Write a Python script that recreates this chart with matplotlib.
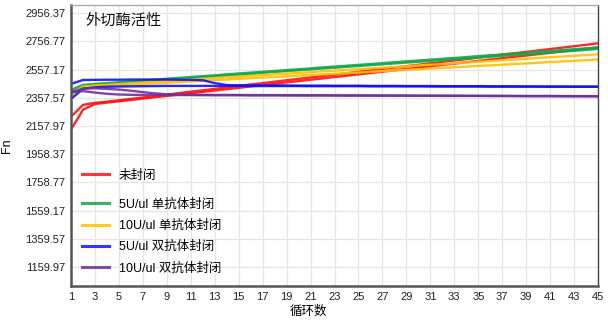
import matplotlib
matplotlib.use("Agg")
import matplotlib.pyplot as plt
import numpy as np

plt.rcParams['font.family'] = ['Liberation Sans', 'Noto Sans CJK SC', 'DejaVu Sans']

cycles = list(range(1, 46))

red_1 = [2224, 2308, 2322, 2330, 2340, 2350, 2360, 2370, 2380, 2391, 2401, 2411, 2421, 2432, 2442,
         2452, 2462, 2472, 2482, 2492, 2502, 2512, 2522, 2532, 2542, 2552, 2562, 2572, 2582, 2592,
         2602, 2612, 2622, 2632, 2643, 2653, 2663, 2673, 2683, 2693, 2703, 2713, 2723, 2733, 2744]
red_2 = [2133, 2273, 2314, 2324, 2333, 2343, 2352, 2362, 2371, 2381, 2390, 2400, 2409, 2419, 2428,
         2438, 2448, 2457, 2467, 2476, 2486, 2495, 2505, 2514, 2524, 2533, 2543, 2552, 2562, 2572,
         2581, 2591, 2600, 2610, 2619, 2629, 2638, 2648, 2657, 2667, 2676, 2686, 2695, 2705, 2715]
green_1 = [2414, 2449, 2456, 2462, 2468, 2474, 2480, 2487, 2493, 2499, 2505, 2511, 2517, 2524, 2530,
           2536, 2542, 2548, 2554, 2560, 2566, 2573, 2579, 2585, 2591, 2597, 2603, 2610, 2616, 2622,
           2628, 2634, 2640, 2646, 2653, 2659, 2665, 2671, 2677, 2683, 2690, 2696, 2702, 2708, 2714]
green_2 = [2395, 2440, 2450, 2456, 2462, 2468, 2474, 2480, 2486, 2492, 2498, 2504, 2510, 2516, 2522,
           2528, 2534, 2541, 2547, 2553, 2559, 2565, 2571, 2577, 2583, 2589, 2595, 2601, 2607, 2613,
           2619, 2625, 2631, 2637, 2643, 2649, 2655, 2661, 2667, 2673, 2679, 2685, 2691, 2697, 2705]
yellow_1 = [2385, 2438, 2445, 2450, 2455, 2461, 2466, 2471, 2476, 2482, 2487, 2492, 2497, 2503, 2508,
            2513, 2518, 2524, 2529, 2534, 2540, 2545, 2550, 2555, 2561, 2566, 2571, 2576, 2582, 2587,
            2592, 2597, 2603, 2608, 2613, 2618, 2624, 2629, 2634, 2640, 2645, 2650, 2655, 2661, 2666]
yellow_2 = [2375, 2430, 2437, 2441, 2446, 2451, 2455, 2460, 2464, 2469, 2473, 2478, 2483, 2487, 2492,
            2496, 2501, 2505, 2510, 2515, 2519, 2524, 2528, 2533, 2537, 2542, 2547, 2551, 2556, 2560,
            2565, 2569, 2574, 2579, 2583, 2588, 2592, 2597, 2601, 2606, 2611, 2615, 2620, 2624, 2629]
blue_1 = [2456, 2484, 2485, 2486, 2486, 2487, 2487, 2487, 2487, 2486, 2485, 2482, 2462, 2448, 2446,
          2446, 2445, 2445, 2445, 2444, 2444, 2444, 2443, 2443, 2443, 2442, 2442, 2442, 2441, 2441,
          2441, 2440, 2440, 2440, 2440, 2439, 2439, 2439, 2438, 2438, 2438, 2438, 2437, 2437, 2437]
blue_2 = [2350, 2421, 2432, 2436, 2438, 2439, 2440, 2441, 2442, 2442, 2442, 2442, 2442, 2442, 2442,
          2441, 2441, 2441, 2441, 2441, 2440, 2440, 2440, 2440, 2440, 2439, 2439, 2439, 2439, 2439,
          2438, 2438, 2438, 2438, 2438, 2437, 2437, 2437, 2437, 2437, 2436, 2436, 2436, 2436, 2436]
purple_1 = [2400, 2405, 2395, 2386, 2381, 2379, 2378, 2378, 2377, 2377, 2377, 2376, 2376, 2376, 2376,
            2375, 2375, 2375, 2375, 2374, 2374, 2374, 2374, 2373, 2373, 2373, 2373, 2372, 2372, 2372,
            2372, 2371, 2371, 2371, 2371, 2370, 2370, 2370, 2369, 2369, 2369, 2369, 2368, 2368, 2368]
purple_2 = [2392, 2424, 2425, 2421, 2416, 2408, 2398, 2389, 2383, 2380, 2379, 2379, 2378, 2378, 2378,
            2377, 2377, 2377, 2376, 2376, 2376, 2376, 2375, 2375, 2375, 2374, 2374, 2374, 2374, 2373,
            2373, 2373, 2373, 2372, 2372, 2372, 2372, 2371, 2371, 2371, 2371, 2370, 2370, 2370, 2369]

labels = ['未封闭', '5U/ul 单抗体封闭', '10U/ul 单抗体封闭', '5U/ul 双抗体封闭', '10U/ul 双抗体封闭']
colors = ['#ff1010', '#10a848', '#ffc000', '#1010ff', '#7030a0']
groups = [(red_1, red_2), (green_1, green_2), (yellow_1, yellow_2), (blue_1, blue_2), (purple_1, purple_2)]

y_ticks = [1159.97, 1359.57, 1559.17, 1758.77, 1958.37, 2157.97, 2357.57, 2557.17, 2756.77, 2956.37]
x_ticks = list(range(1, 46, 2))

fig = plt.figure(figsize=(6.08, 3.23), dpi=100)
ax = fig.add_axes([0.1168, 0.1146, 0.8668, 0.8699])

handles = []
for (a, b), col, lab in zip(groups, colors, labels):
    ax.plot(cycles, b, color=col, lw=1.7, alpha=0.9)
    h, = ax.plot(cycles, a, color=col, lw=1.7, alpha=0.9, label=lab)
    handles.append(h)

ax.set_xlim(1, 45)
ax.set_ylim(1025, 3015)
ax.set_xticks(x_ticks)
ax.set_yticks(y_ticks)
ax.set_yticklabels(['%.2f' % v for v in y_ticks])
ax.tick_params(length=0, labelsize=8, colors='#222222', pad=4)
ax.grid(True, color='#e6e6e6', lw=0.9)
ax.set_axisbelow(True)

for side in ['left', 'bottom']:
    ax.spines[side].set_color('#555555')
    ax.spines[side].set_linewidth(1.8)
ax.spines['right'].set_color('#444444')
ax.spines['right'].set_linewidth(1.0)
ax.spines['top'].set_color('#aaaaaa')
ax.spines['top'].set_linewidth(1.0)

ax.text(0.028, 0.945, '外切酶活性', transform=ax.transAxes, fontsize=11,
        ha='left', va='center', color='#111111')

ax.set_xlabel('循环数', fontsize=9, labelpad=1)
ax.xaxis.set_label_coords(0.45, -0.07)
ax.set_ylabel('Fn', fontsize=9)
ax.yaxis.set_label_coords(-0.11, 0.5)

# legend: first entry sits apart from the other four
leg_kw = dict(loc='upper left', frameon=False, fontsize=9, handlelength=2.1,
              handletextpad=0.8, borderaxespad=0.5)
leg1 = ax.legend(handles=handles[:1], bbox_to_anchor=(0.0, 0.455), **leg_kw)
ax.add_artist(leg1)
leg2 = ax.legend(handles=handles[1:], bbox_to_anchor=(0.0, 0.352),
                 labelspacing=0.72, **leg_kw)
for leg in (leg1, leg2):
    for line in leg.get_lines():
        line.set_linewidth(2.2)
        line.set_alpha(0.85)

fig.savefig('out.png', dpi=100)
